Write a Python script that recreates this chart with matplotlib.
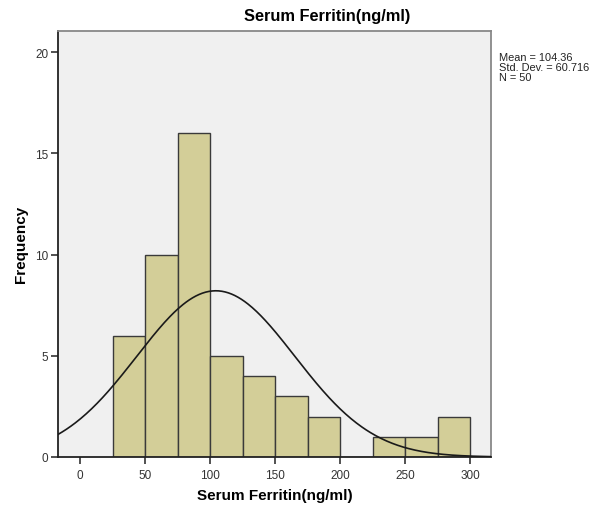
import numpy as np
import matplotlib
matplotlib.use("Agg")
import matplotlib.pyplot as plt

bin_edges = [25, 50, 75, 100, 125, 150, 175, 200, 225, 250, 275, 300]
counts = [6, 10, 16, 5, 4, 3, 2, 0, 1, 1, 2]
mean = 104.36
sd = 60.716
n = 50
x_ticks = [0, 50, 100, 150, 200, 250, 300]
y_ticks = [0, 5, 10, 15, 20]

plt.rcParams['font.family'] = ['Liberation Sans', 'DejaVu Sans']

W, H = 594, 506
fig = plt.figure(figsize=(W/100, H/100), dpi=100)
ax = fig.add_axes([58/W, (H-458)/H, (491-58)/W, (458-32)/H])
ax.set_facecolor('#f0f0f0')

lefts = bin_edges[:-1]
widths = np.diff(bin_edges)
ax.bar(lefts, counts, width=widths, align='edge', color='#d3ce98',
       edgecolor='#3a3a3a', linewidth=1.0, zorder=2)

xlim = (-17, 316)
xs = np.linspace(xlim[0], xlim[1], 400)
bw = 25
ys = n * bw * np.exp(-0.5 * ((xs - mean) / sd) ** 2) / (sd * np.sqrt(2 * np.pi))
ax.plot(xs, ys, color='#1a1a1a', linewidth=1.2, zorder=3)

ax.set_xlim(*xlim)
ax.set_ylim(0, 21.05)
ax.set_xticks(x_ticks)
ax.set_yticks(y_ticks)
ax.tick_params(axis='both', labelsize=8.5, colors='#333333', length=5, width=1.2)
ax.tick_params(axis='x', direction='out', pad=4)
ax.tick_params(axis='y', pad=2)
for s in ['left', 'bottom']:
    ax.spines[s].set_color('#222222')
    ax.spines[s].set_linewidth(1.3)
for s in ['top', 'right']:
    ax.spines[s].set_color('#888888')
    ax.spines[s].set_linewidth(1.3)

fig.text(275/W, 1 - 496/H, 'Serum Ferritin(ng/ml)', ha='center', va='center',
         fontsize=11, fontweight='bold')
fig.text(21/W, 1 - 244/H, 'Frequency', ha='center', va='center', rotation=90,
         fontsize=11, fontweight='bold')
fig.text(327/W, 1 - 17/H, 'Serum Ferritin(ng/ml)', ha='center', va='center',
         fontsize=11.8, fontweight='bold')
fig.text(499/W, 1 - 53/H, 'Mean = 104.36\nStd. Dev. = 60.716\nN = 50',
         ha='left', va='top', fontsize=7.9, linespacing=0.98, color='#222222')

fig.savefig('out.png', dpi=100)
